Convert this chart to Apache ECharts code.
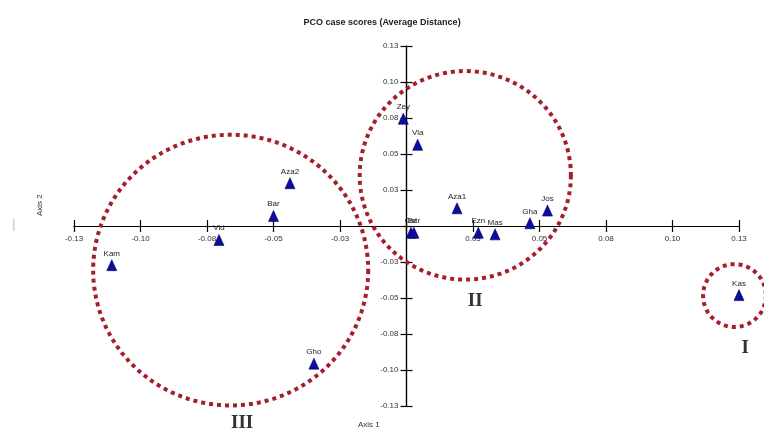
<!DOCTYPE html>
<html>
<head>
<meta charset="utf-8">
<script src="https://cdn.jsdelivr.net/npm/echarts@6/dist/echarts.min.js"></script>
<style>
html,body{margin:0;padding:0;background:#fff;}
#chart{width:764px;height:432px;}
</style>
</head>
<body>
<div id="chart"></div>
<script>
// ---- data ----
const siteNames = ['Zey','Vla','Aza1','Jos','Gha','Ezn','Mas','Ost','Ber','Aza2','Bar','Vid','Kam','Gho','Kas'];
const axis1Scores = [-0.0012, 0.0042, 0.0190, 0.0530, 0.0464, 0.0270, 0.0333, 0.0017, 0.0028, -0.0438, -0.0500, -0.0705, -0.1108, -0.0348, 0.1250];
const axis2Scores = [0.0745, 0.0564, 0.0123, 0.0107, 0.0019, -0.0047, -0.0058, -0.0047, -0.0047, 0.0297, 0.0070, -0.0097, -0.0272, -0.0956, -0.0480];

const axisMin = -0.125;
const axisMax = 0.125;
const tickStep = 0.025;
const xTickLabels = ['-0.13','-0.10','-0.08','-0.05','-0.03','','0.03','0.05','0.08','0.10','0.13'];
const yTickLabels = ['-0.13','-0.10','-0.08','-0.05','-0.03','','0.03','0.05','0.08','0.10','0.13'];

// group outlines: centre (axis units) and half-widths (axis units)
const groupNames = ['I','II','III'];
const groupCentreX = [0.1233, 0.0221, -0.0661];
const groupCentreY = [-0.0483, 0.0352, -0.0306];
const groupRadiusX = [0.0118, 0.0397, 0.0517];
const groupRadiusY = [0.0218, 0.0724, 0.0940];
const groupLabelX = [0.1273, 0.0258, -0.0618];
const groupLabelY = [-0.0850, -0.0522, -0.1372];

const chartTitle = 'PCO case scores (Average Distance)';
const axis1Title = 'Axis 1';
const axis2Title = 'Axis 2';

// ---- build options ----
const pointData = siteNames.map((n, i) => ({ name: n, value: [axis1Scores[i], axis2Scores[i]] }));
const ringData = groupNames.map((n, i) => [groupCentreX[i], groupCentreY[i], groupRadiusX[i], groupRadiusY[i]]);
const romanData = groupNames.map((n, i) => [groupLabelX[i], groupLabelY[i], n]);

const labelFont = 'Arial, "Liberation Sans", sans-serif';

function fmtX(v) { const k = Math.round((v - axisMin) / tickStep); return xTickLabels[k] !== undefined ? xTickLabels[k] : ''; }
function fmtY(v) { const k = Math.round((v - axisMin) / tickStep); return yTickLabels[k] !== undefined ? yTickLabels[k] : ''; }

const baseAxis = {
  type: 'value', min: axisMin, max: axisMax, interval: tickStep,
  splitLine: { show: false },
  axisLine: { show: true, onZero: false, lineStyle: { color: '#000', width: 1.2 } },
  axisTick: { show: true, length: 6, lineStyle: { color: '#000', width: 1.2 } }
};

const chart = echarts.init(document.getElementById('chart'), null, { renderer: 'canvas' });
chart.setOption({
  backgroundColor: '#fff',
  animation: false,
  title: {
    text: chartTitle, left: 'center', top: 13,
    textStyle: { fontSize: 9, fontWeight: 'bold', color: '#222', fontFamily: labelFont }
  },
  grid: { left: 74, right: 25, top: 46, bottom: 26, containLabel: false, outerBoundsMode: 'none' },
  xAxis: [
    Object.assign({}, baseAxis, {
      position: 'bottom',
      axisLabel: { show: true, formatter: fmtX, fontSize: 8, color: '#333', margin: 9, fontFamily: labelFont, showMinLabel: true, showMaxLabel: true }
    }),
    Object.assign({}, baseAxis, { position: 'top', axisLabel: { show: false } })
  ],
  yAxis: [
    Object.assign({}, baseAxis, {
      position: 'left',
      axisLabel: { show: true, formatter: fmtY, fontSize: 8, color: '#333', margin: 8, fontFamily: labelFont, showMinLabel: true, showMaxLabel: true }
    }),
    Object.assign({}, baseAxis, { position: 'right', axisLabel: { show: false } })
  ],
  series: [
    {
      type: 'custom',
      xAxisIndex: 0, yAxisIndex: 0,
      clip: false,
      silent: true,
      z: 1,
      data: ringData,
      renderItem: function (params, api) {
        const c = api.coord([api.value(0), api.value(1)]);
        const s = api.size([api.value(2), api.value(3)]);
        const pts = [];
        const n = 240;
        for (let k = 0; k <= n; k++) {
          const a = (k / n) * Math.PI * 2;
          pts.push([c[0] + s[0] * Math.cos(a), c[1] + s[1] * Math.sin(a)]);
        }
        return {
          type: 'polyline',
          shape: { points: pts },
          style: { fill: null, stroke: '#a51e2b', lineWidth: 4, lineDash: [4, 4], lineCap: 'butt' }
        };
      }
    },
    {
      type: 'custom',
      xAxisIndex: 0, yAxisIndex: 0,
      clip: false,
      silent: true,
      z: 2,
      data: romanData,
      renderItem: function (params, api) {
        const c = api.coord([api.value(0), api.value(1)]);
        return {
          type: 'text',
          style: {
            x: c[0], y: c[1], text: api.value(2),
            align: 'center', verticalAlign: 'middle',
            font: 'bold 19px "Liberation Serif", "Times New Roman", serif',
            fill: '#333'
          }
        };
      }
    },
    {
      type: 'scatter',
      xAxisIndex: 0, yAxisIndex: 0,
      symbol: 'triangle',
      symbolSize: [10, 11],
      z: 5,
      itemStyle: { color: '#0c0ca0', borderColor: '#00005a', borderWidth: 0.6, opacity: 1 },
      label: {
        show: true, position: 'top', distance: 2,
        formatter: '{b}', fontSize: 8, color: '#222', fontFamily: labelFont
      },
      labelLayout: { hideOverlap: false },
      data: pointData
    }
  ],
  graphic: [
    { type: 'text', left: 358, top: 421, style: { text: axis1Title, font: '8px Arial, "Liberation Sans", sans-serif', fill: '#333' } },
    { type: 'text', x: 36, y: 216, rotation: Math.PI / 2, style: { text: axis2Title, font: '8px Arial, "Liberation Sans", sans-serif', fill: '#333' } },
    { type: 'rect', shape: { x: 13, y: 219, width: 1.5, height: 12 }, style: { fill: '#cfcfcf' } }
  ]
});

// Move the crossing axes to pass through the origin, measured through the library's own scales.
const origin = chart.convertToPixel({ xAxisIndex: 0, yAxisIndex: 0 }, [0, 0]);
const lowCorner = chart.convertToPixel({ xAxisIndex: 0, yAxisIndex: 0 }, [axisMin, axisMin]);
const highCorner = chart.convertToPixel({ xAxisIndex: 0, yAxisIndex: 0 }, [axisMax, axisMax]);
chart.setOption({
  xAxis: [
    { offset: -(lowCorner[1] - origin[1]) },
    { offset: -(origin[1] - highCorner[1]) }
  ],
  yAxis: [
    { offset: -(origin[0] - lowCorner[0]) },
    { offset: -(highCorner[0] - origin[0]) }
  ]
});
</script>
</body>
</html>
